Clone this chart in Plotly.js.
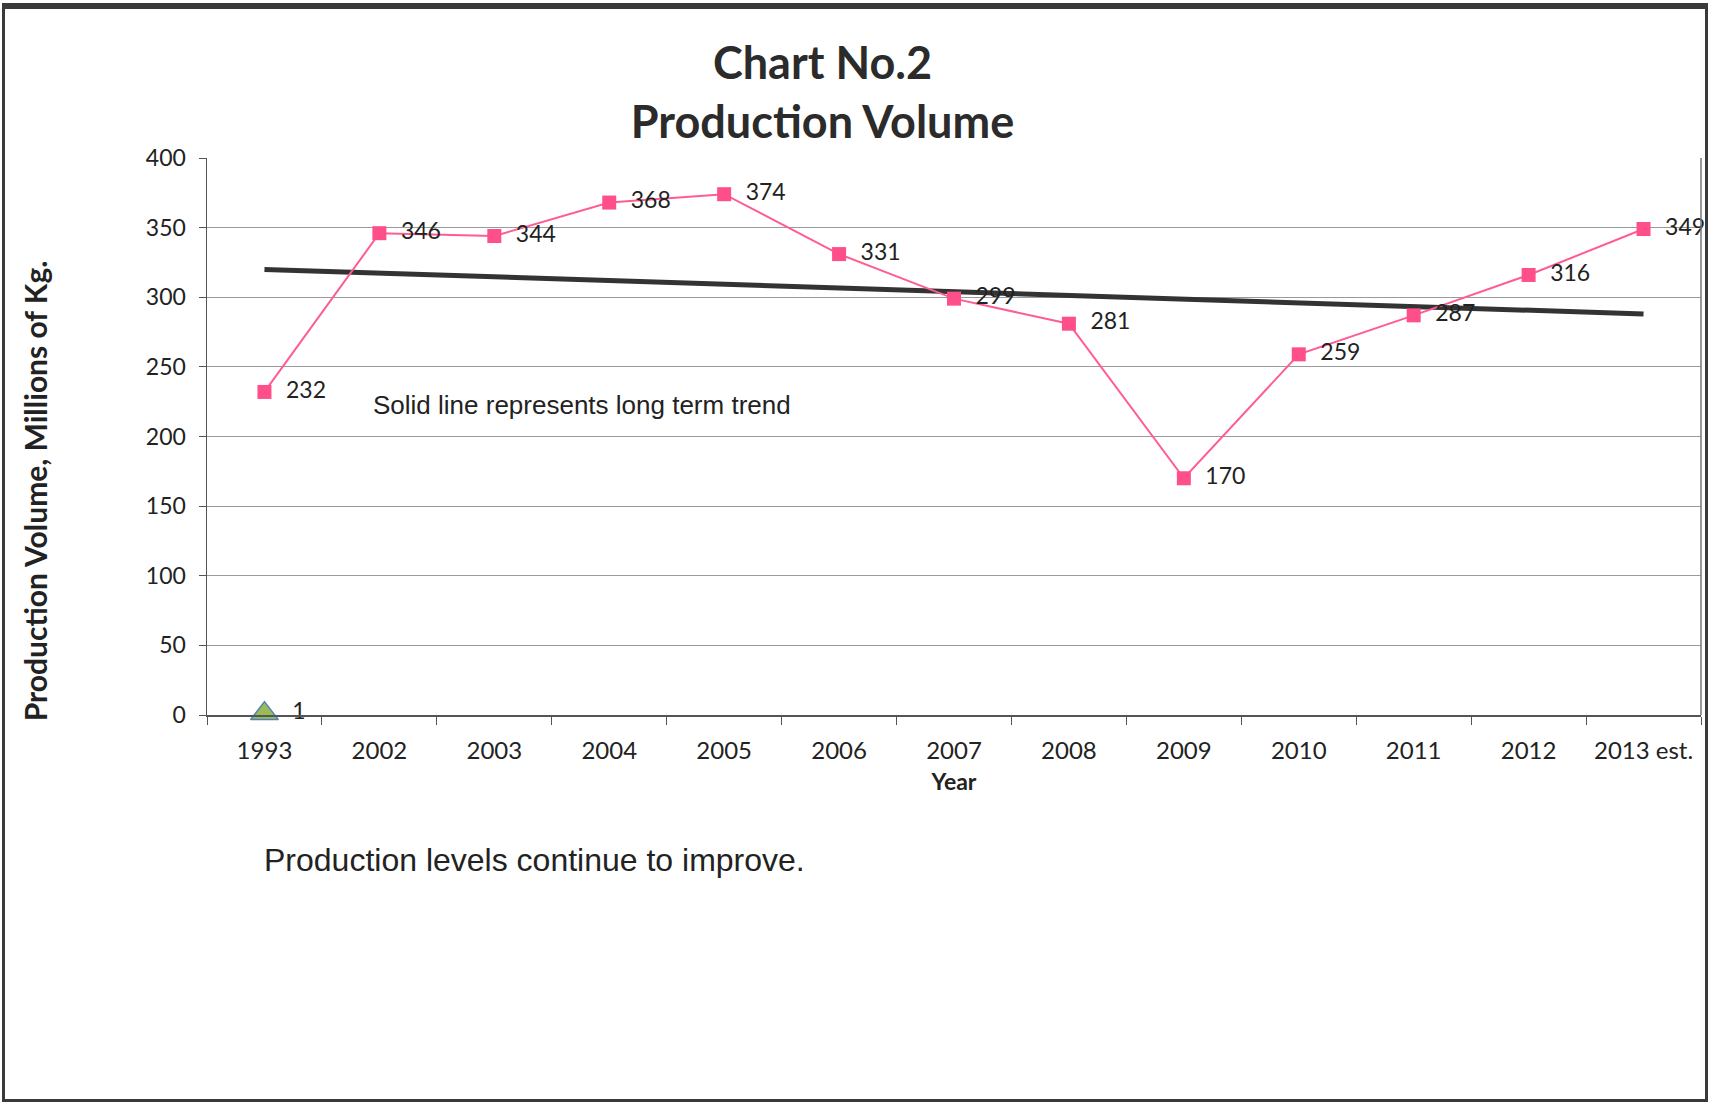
<!DOCTYPE html>
<html>
<head>
<meta charset="utf-8">
<script src="https://cdn.plot.ly/plotly-3.0.1.min.js"></script>
<style>
  html, body { margin: 0; padding: 0; background: #ffffff; }
  #frame { position: absolute; left: 2px; top: 3px; width: 1700px; height: 1090px;
           border: 3px solid #3a3a3a; border-top-width: 6px; background: #fff; }
  #chart { position: absolute; left: 0; top: 0; width: 1710px; height: 1103px; }
</style>
</head>
<body>
<div id="frame"></div>
<div id="chart"></div>
<script>
// ---- data ----
const years = ["1993", "2002", "2003", "2004", "2005", "2006", "2007", "2008", "2009", "2010", "2011", "2012", "2013 est."];
const production = [232, 346, 344, 368, 374, 331, 299, 281, 170, 259, 287, 316, 349];
const baseYears = ["1993"];
const baseValues = [1];
const trendYears = ["1993", "2013 est."];
const trendValues = [320, 288];
const yTicks = [0, 50, 100, 150, 200, 250, 300, 350, 400];

const FONT = "Lato, 'Open Sans', sans-serif";
const ARIAL = "'Liberation Sans', Arial, sans-serif";
const TXT = "#222222";

const traces = [
  {
    x: trendYears, y: trendValues, type: "scatter", mode: "lines",
    line: { color: "#333333", width: 5 }, hoverinfo: "skip", showlegend: false
  },
  {
    x: years, y: production, type: "scatter", mode: "lines+markers+text",
    line: { color: "#ff5c93", width: 2 },
    marker: { symbol: "square", size: 14, color: "#ff4f8a" },
    text: production.map(v => "\u00a0\u00a0" + v),
    textposition: "middle right",
    textfont: { family: FONT, size: 23, color: TXT },
    cliponaxis: false, showlegend: false
  },
  {
    x: baseYears, y: baseValues, type: "scatter", mode: "markers+text",
    marker: { symbol: "triangle-up", size: 24, color: "#9bbb59", line: { color: "#4f81bd", width: 1.5 } },
    text: baseValues.map(v => "\u00a0\u00a0" + v),
    textposition: "middle right",
    textfont: { family: FONT, size: 23, color: TXT },
    cliponaxis: false, showlegend: false
  }
];

const layout = {
  width: 1710, height: 1103,
  paper_bgcolor: "rgba(0,0,0,0)", plot_bgcolor: "#ffffff",
  margin: { l: 207, r: 9, t: 158, b: 388 },
  font: { family: FONT, color: TXT },
  title: {
    text: "<b>Chart No.2</b><br><b>Production Volume</b>",
    font: { family: FONT, size: 45, color: "#2b2b2b" },
    x: 0.481, xanchor: "center", yref: "container", y: 0.928, yanchor: "middle"
  },
  xaxis: {
    type: "category", categoryorder: "array", categoryarray: years,
    range: [-0.5, 12.5],
    showline: true, linecolor: "#555555", linewidth: 1.5,
    showgrid: false, zeroline: false,
    ticks: "outside", tickson: "boundaries", ticklen: 8, tickcolor: "#555555",
    tickfont: { family: FONT, size: 24, color: TXT },
    ticklabelstandoff: 14,
    title: { text: "<b>Year</b>", font: { family: FONT, size: 23, color: TXT }, standoff: 10 }
  },
  yaxis: {
    range: [0, 400], tickvals: yTicks, ticktext: yTicks.map(String),
    showline: true, linecolor: "#555555", linewidth: 1.5,
    showgrid: true, gridcolor: "#9a9a9a", gridwidth: 1,
    zeroline: false,
    ticks: "outside", ticklen: 7, tickcolor: "#555555",
    tickfont: { family: FONT, size: 23, color: TXT },
    ticklabelstandoff: 8
  },
  shapes: [
    { type: "line", xref: "paper", yref: "paper", x0: 1, x1: 1, y0: 0, y1: 1, line: { color: "#777777", width: 1.5 } }
  ],
  annotations: [
    { xref: "paper", yref: "paper", x: -0.115, y: 0.402, xanchor: "center", yanchor: "middle",
      textangle: -90, text: "<b>Production Volume, Millions of Kg.</b>", showarrow: false,
      font: { family: FONT, size: 30, color: TXT } },
    { xref: "paper", yref: "paper", x: 0.11, y: 0.557, xanchor: "left", yanchor: "middle",
      text: "Solid line represents long term trend", showarrow: false,
      font: { family: ARIAL, size: 26, color: TXT } },
    { xref: "paper", yref: "paper", x: 0.037, y: -0.26, xanchor: "left", yanchor: "middle",
      text: "Production levels continue to improve.", showarrow: false,
      font: { family: ARIAL, size: 32, color: TXT } }
  ]
};

Plotly.newPlot("chart", traces, layout, { staticPlot: true, displayModeBar: false });
</script>
</body>
</html>
